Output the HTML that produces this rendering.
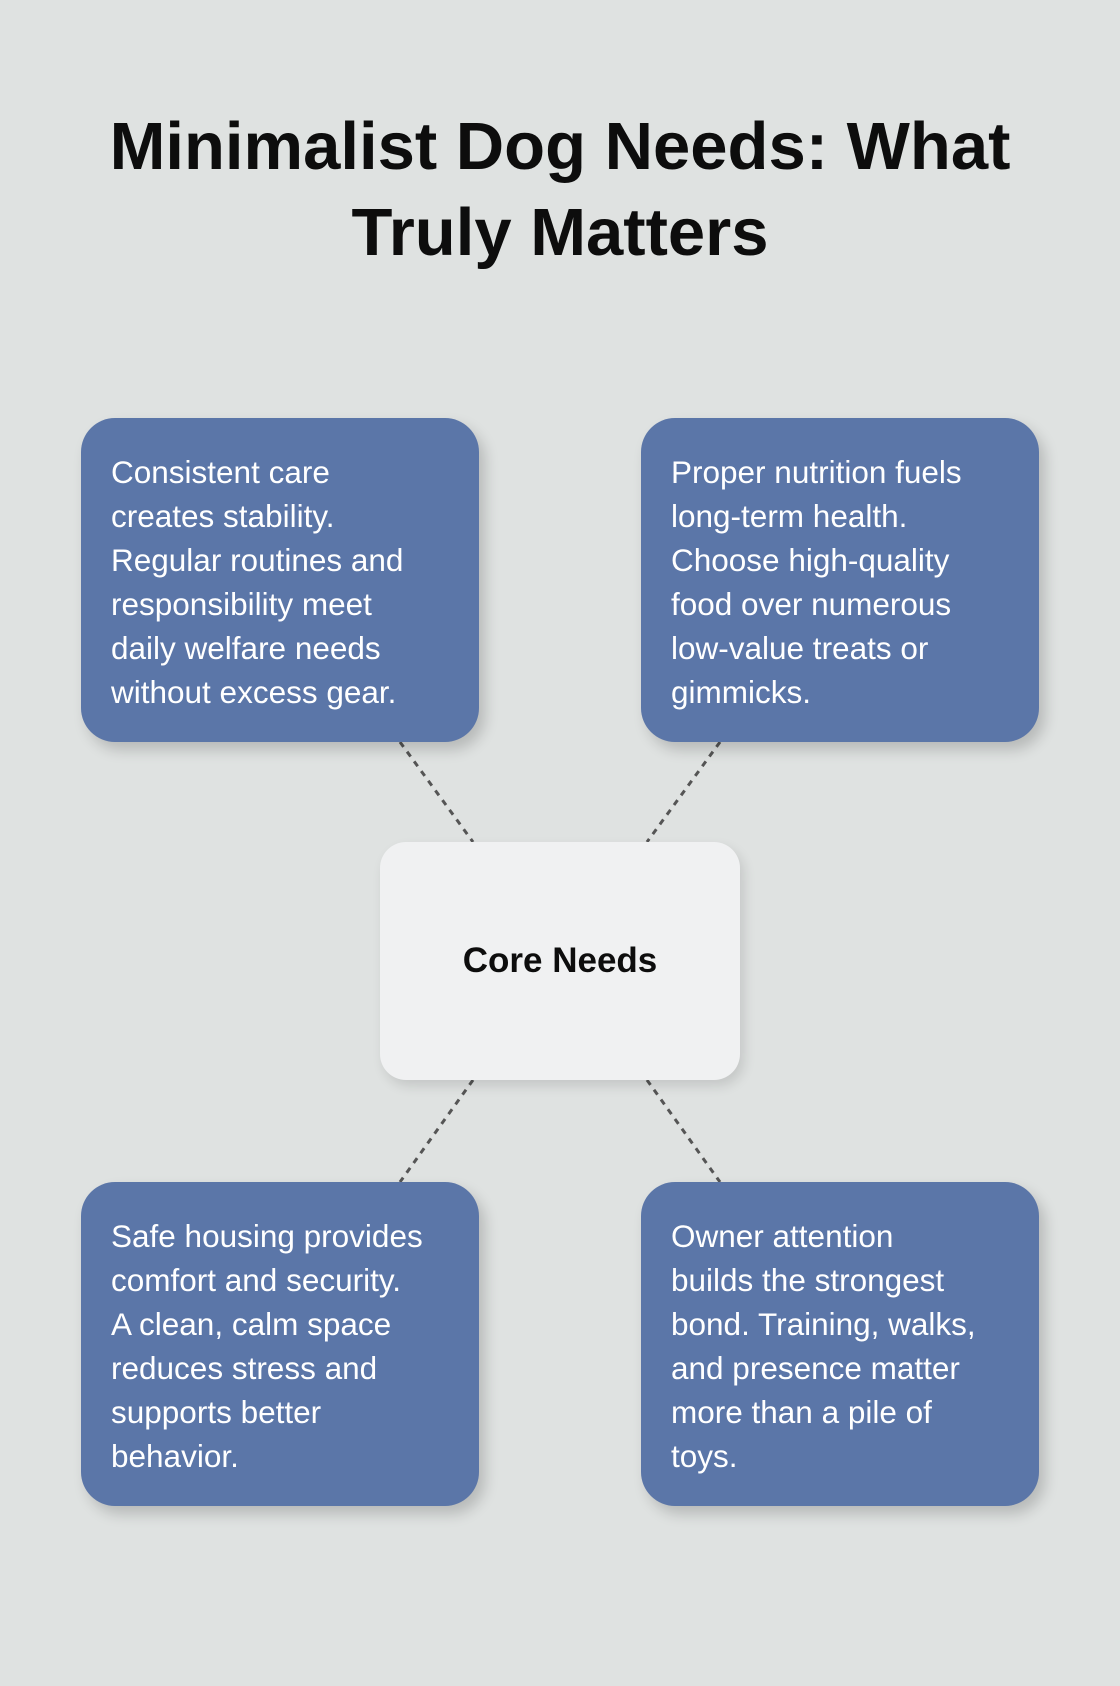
<!DOCTYPE html>
<html><head><meta charset="utf-8"><style>
html,body{margin:0;padding:0}
body{width:1120px;height:1686px;background:#dfe2e1;position:relative;font-family:"Liberation Sans",sans-serif;overflow:hidden}
.t{position:absolute;left:0;width:1120px;text-align:center;font-weight:bold;font-size:67px;color:#0d0d0d;line-height:86px;top:104px;white-space:nowrap}
.b{position:absolute;width:398px;height:324px;background:#5b76a8;border-radius:34px;box-sizing:border-box;padding:32px 10px 0 30px;color:#fff;font-size:31.5px;line-height:44px;white-space:nowrap;box-shadow:6px 8px 14px rgba(0,0,0,0.18)}
.c{position:absolute;left:380px;top:842px;width:360px;height:238px;background:#f0f1f2;border-radius:26px;display:flex;align-items:center;justify-content:center;font-weight:bold;font-size:35px;color:#0d0d0d;box-shadow:4px 6px 12px rgba(0,0,0,0.12)}
svg{position:absolute;left:0;top:0}
</style></head><body>
<div class="t">Minimalist Dog Needs: What<br>Truly Matters</div>
<svg width="1120" height="1686"><g stroke="#555" stroke-width="3" stroke-dasharray="6,6">
<line x1="400" y1="742" x2="473" y2="842"/><line x1="720" y1="742" x2="647" y2="842"/>
<line x1="473" y1="1080" x2="400" y2="1182"/><line x1="647" y1="1080" x2="720" y2="1182"/></g></svg>
<div class="b" style="left:81px;top:418px">Consistent care<br>creates stability.<br>Regular routines and<br>responsibility meet<br>daily welfare needs<br>without excess gear.</div>
<div class="b" style="left:641px;top:418px">Proper nutrition fuels<br>long-term health.<br>Choose high-quality<br>food over numerous<br>low-value treats or<br>gimmicks.</div>
<div class="b" style="left:81px;top:1182px">Safe housing provides<br>comfort and security.<br>A clean, calm space<br>reduces stress and<br>supports better<br>behavior.</div>
<div class="b" style="left:641px;top:1182px">Owner attention<br>builds the strongest<br>bond. Training, walks,<br>and presence matter<br>more than a pile of<br>toys.</div>
<div class="c">Core Needs</div>
</body></html>
